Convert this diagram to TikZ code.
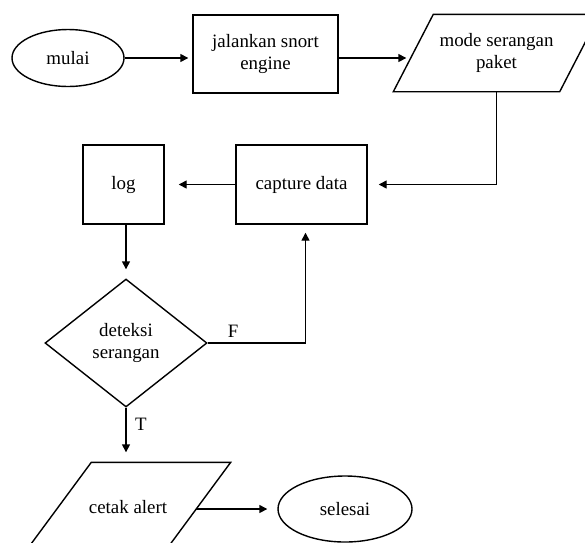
\documentclass[tikz,border=0pt]{standalone}
\usepackage{fontspec}
\setmainfont{Liberation Serif}
\usetikzlibrary{shapes.geometric, arrows.meta}

\begin{document}
\begin{tikzpicture}[x=1pt, y=-1pt, line width=1.4pt,
  every node/.style={font=\fontsize{18.9}{21.5}\selectfont, align=center},
  >={Triangle[length=8pt, width=8pt]},
  terminal/.style={ellipse, draw, inner sep=0pt},
  process/.style={rectangle, draw, inner sep=0pt},
  iobox/.style={rectangle, inner sep=0pt},
  decision/.style={diamond, draw, inner sep=0pt}]
  \path[use as bounding box, clip] (0,0) rectangle (585,542);

  % Baris atas
  \node[terminal, minimum width=112pt, minimum height=57pt] (mulai) at (68,58) {mulai};
  \node[process, minimum width=145pt, minimum height=78pt] (engine) at (265.5,54) {jalankan snort\\engine};
  \node[iobox, minimum width=205pt, minimum height=76pt] (mode) at (496.5,53) {mode serangan\\paket};
  \draw ([xshift=40pt]mode.north west) -- (mode.north east) -- ([xshift=-40pt]mode.south east) -- (mode.south west) -- cycle;

  % Baris tengah
  \node[process, minimum width=131pt, minimum height=79pt] (capture) at (301.5,184.5) {capture data};
  \node[process, minimum width=81pt, minimum height=79pt] (log) at (123.5,184.5) {log};
  \node[decision, minimum width=162pt, minimum height=128pt] (detect) at (126,343) {deteksi\\serangan};

  % Baris bawah
  \node[iobox, minimum width=204pt, minimum height=88pt] (alert) at (128,507) {cetak alert};
  \draw ([xshift=66pt]alert.north west) -- (alert.north east) -- ([xshift=-66pt]alert.south east) -- (alert.south west) -- cycle;
  \node[terminal, minimum width=134pt, minimum height=66pt] (selesai) at (345,509) {selesai};

  % Panah
  \draw[->, shorten >=4pt] (mulai) -- (mulai -| engine.west);
  \draw[->, shorten >=-13pt] (engine.east |- mulai) -- (mulai -| mode.west);
  \draw[->, shorten >=11pt] (mode.south) |- (capture);
  \draw[->, shorten >=14pt] (capture) -- (log);
  \draw[->, shorten >=9pt] (log.south -| detect) -- (detect.north);
  \draw[->, shorten >=8pt] (detect.east) -| ([xshift=4pt]capture.south) node[pos=0.13, above=1pt] {F};
  \draw[->, shorten >=10pt] (detect.south) -- (detect.south |- alert.north) node[pos=0.3, right=5pt] {T};
  \draw[->, shorten <=-35pt, shorten >=10pt] (alert.east |- selesai) -- (selesai);
\end{tikzpicture}
\end{document}
